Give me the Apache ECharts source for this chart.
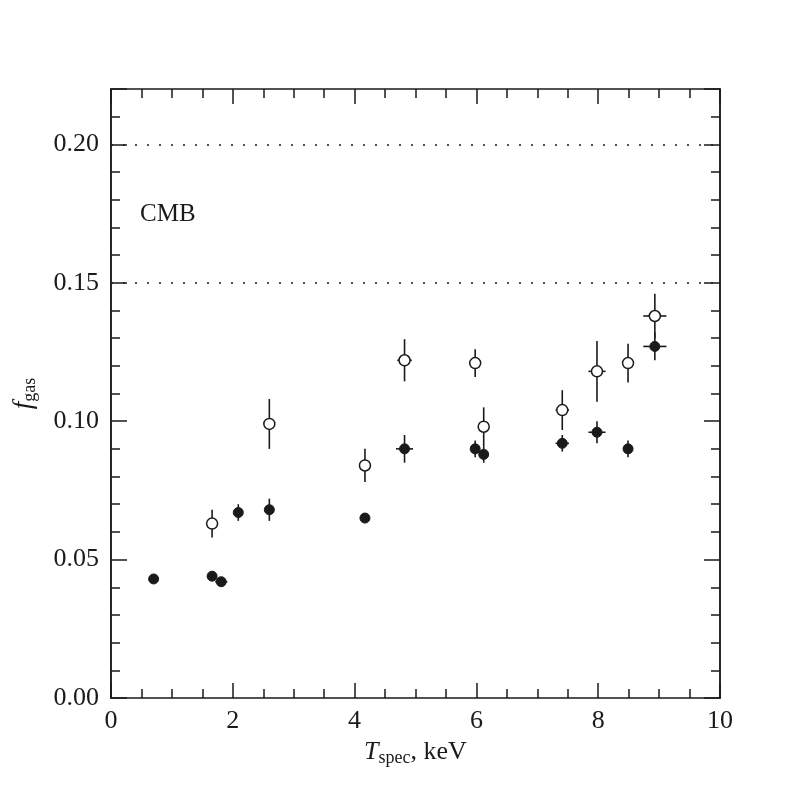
<!DOCTYPE html>
<html>
<head>
<meta charset="utf-8">
<script src="https://cdn.jsdelivr.net/npm/echarts@6/dist/echarts.min.js"></script>
<style>
  html, body { margin: 0; padding: 0; background: #fff; }
  #chart { width: 789px; height: 789px; }
</style>
</head>
<body>
<div id="chart"></div>
<script>
// filled points
var filledX = [0.70, 1.66, 1.81, 2.09, 2.60, 4.17, 4.82, 5.98, 6.12, 7.41, 7.98, 8.49, 8.93];
var filledY = [0.043, 0.044, 0.042, 0.067, 0.068, 0.065, 0.090, 0.090, 0.088, 0.092, 0.096, 0.090, 0.127];
var filledYErr = [0, 0.0015, 0.0015, 0.003, 0.004, 0.0017, 0.005, 0.003, 0.003, 0.003, 0.004, 0.003, 0.005];
var filledXErr = [0, 0, 0.1, 0, 0, 0.05, 0.14, 0, 0, 0.11, 0.14, 0.07, 0.19];

// open points
var openX = [1.66, 2.60, 4.17, 4.82, 5.98, 6.12, 7.41, 7.98, 8.49, 8.93];
var openY = [0.063, 0.099, 0.084, 0.122, 0.121, 0.098, 0.104, 0.118, 0.121, 0.138];
var openYErr = [0.005, 0.009, 0.006, 0.0076, 0.005, 0.007, 0.0072, 0.011, 0.007, 0.008];
var openXErr = [0, 0, 0, 0.12, 0, 0, 0.11, 0.14, 0.07, 0.19];

// CMB band limits
var cmbLines = [0.152, 0.198];

var xTicks = [0, 2, 4, 6, 8, 10];
var yTicks = ['0.00', '0.05', '0.10', '0.15', '0.20'];

var FONT = 'Liberation Serif';
var INK = '#1a1a1a';

function pairs(xs, ys) {
	return xs.map(function (x, i) { return [x, ys[i]]; });
}
function errRows(xs, ys, ex, ey) {
	return xs.map(function (x, i) { return [x, ys[i], ex[i], ey[i]]; });
}

function renderErr(params, api) {
	var x = api.value(0), y = api.value(1), ex = api.value(2), ey = api.value(3);
	var kids = [];
	var st = { stroke: INK, lineWidth: 1.6 };
	if (ey > 0) {
		var a = api.coord([x, y - ey]), b = api.coord([x, y + ey]);
		kids.push({ type: 'line', shape: { x1: a[0], y1: a[1], x2: b[0], y2: b[1] }, style: st });
	}
	if (ex > 0) {
		var c = api.coord([x - ex, y]), d = api.coord([x + ex, y]);
		kids.push({ type: 'line', shape: { x1: c[0], y1: c[1], x2: d[0], y2: d[1] }, style: st });
	}
	return { type: 'group', children: kids };
}

var axisLine = { show: true, onZero: false, lineStyle: { color: INK, width: 1.5 } };

function yAx(pos, interval, len, labels) {
	return {
		type: 'value', position: pos, min: 0, max: 0.22, interval: interval,
		axisLine: axisLine,
		axisTick: { show: true, inside: true, length: len, lineStyle: { color: INK, width: 1.5 } },
		axisLabel: labels ? {
			show: true, margin: 12, fontFamily: FONT, fontSize: 26, color: INK,
			formatter: function (v) {
				var s = v.toFixed(2);
				return yTicks.indexOf(s) >= 0 && Math.abs(v - parseFloat(s)) < 1e-6 ? s : '';
			}
		} : { show: false },
		splitLine: { show: false }
	};
}

function xAx(pos, labels) {
	return {
		type: 'value', position: pos, min: 0, max: 10, interval: 2,
		axisLine: axisLine,
		axisTick: { show: true, inside: true, length: 15, lineStyle: { color: INK, width: 1.5 } },
		minorTick: { show: true, splitNumber: 4, length: 9, lineStyle: { color: INK, width: 1.5 } },
		axisLabel: labels ? {
			show: true, margin: 10, fontFamily: FONT, fontSize: 26, color: INK,
			formatter: function (v) { return xTicks.indexOf(v) >= 0 ? String(v) : ''; }
		} : { show: false },
		splitLine: { show: false }
	};
}

var chart = echarts.init(document.getElementById('chart'), null, { renderer: 'canvas' });

var xBottom = xAx('bottom', true);
xBottom.name = '{i|T}{s|spec}{n|, keV}';
xBottom.nameLocation = 'middle';
xBottom.nameGap = 38;
xBottom.nameTextStyle = {
	rich: {
		i: { fontFamily: FONT, fontStyle: 'italic', fontSize: 26, color: INK, lineHeight: 30 },
		s: { fontFamily: FONT, fontSize: 18, color: INK, lineHeight: 10, verticalAlign: 'bottom' },
		n: { fontFamily: FONT, fontSize: 26, color: INK, lineHeight: 30 }
	}
};

var yLeft = yAx('left', 0.05, 16, true);
yLeft.name = '{i|f}{s|gas}';
yLeft.nameLocation = 'middle';
yLeft.nameGap = 72;
yLeft.nameRotate = 90;
yLeft.nameTextStyle = {
	rich: {
		i: { fontFamily: FONT, fontStyle: 'italic', fontSize: 27, color: INK, lineHeight: 30 },
		s: { fontFamily: FONT, fontSize: 18, color: INK, lineHeight: 10, verticalAlign: 'bottom' }
	}
};

var option = {
	animation: false,
	backgroundColor: '#fff',
	grid: { left: 111, right: 69, top: 89, bottom: 91, containLabel: false },
	xAxis: [xBottom, xAx('top', false)],
	yAxis: [
		yLeft,
		yAx('left', 0.01, 9, false),
		yAx('right', 0.05, 16, false),
		yAx('right', 0.01, 9, false)
	],
	graphic: [{
		type: 'text', left: 140, top: 202,
		style: { text: 'CMB', fontFamily: FONT, fontSize: 25, fill: INK }
	}],
	series: [
		{
			type: 'custom', name: 'errFilled', renderItem: renderErr, z: 2,
			encode: { x: 0, y: 1 },
			data: errRows(filledX, filledY, filledXErr, filledYErr)
		},
		{
			type: 'custom', name: 'errOpen', renderItem: renderErr, z: 2,
			encode: { x: 0, y: 1 },
			data: errRows(openX, openY, openXErr, openYErr)
		},
		{
			type: 'scatter', name: 'filled', z: 5, symbol: 'circle', symbolSize: 10,
			itemStyle: { color: INK, borderColor: INK, borderWidth: 1, opacity: 1 },
			data: pairs(filledX, filledY),
			markLine: {
				silent: true, symbol: 'none', label: { show: false },
				lineStyle: { color: INK, type: [2, 10], width: 1.6 },
				data: cmbLines.map(function (v) { return { yAxis: v }; })
			}
		},
		{
			type: 'scatter', name: 'open', z: 5, symbol: 'circle', symbolSize: 11,
			itemStyle: { color: '#fff', borderColor: INK, borderWidth: 1.5, opacity: 1 },
			data: pairs(openX, openY)
		}
	]
};

chart.setOption(option);
</script>
</body>
</html>
